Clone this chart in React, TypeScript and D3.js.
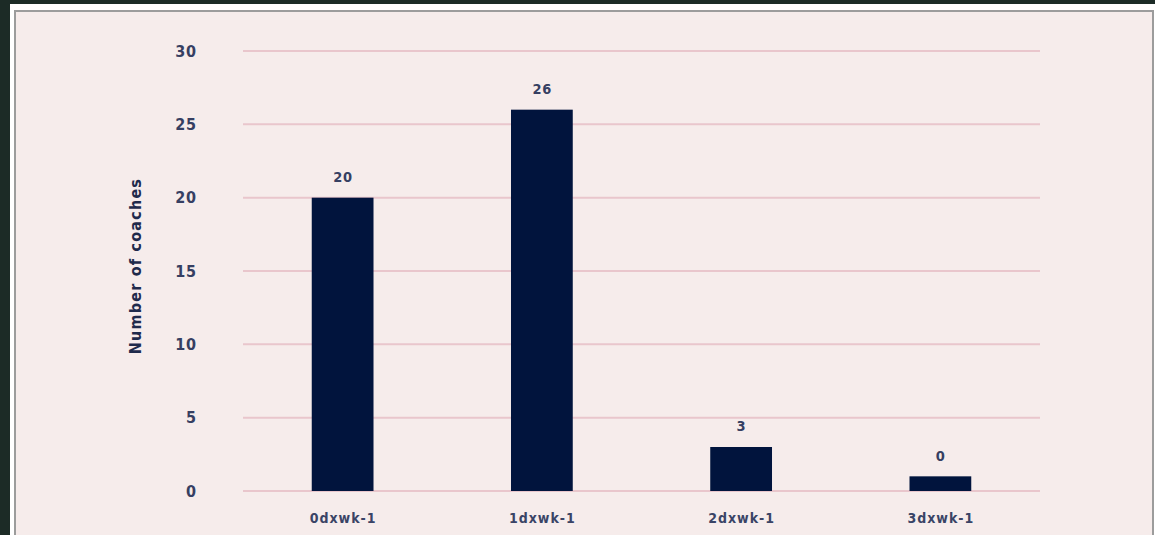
import React from "react";
import * as d3 from "d3";

const categories = ["0dxwk-1", "1dxwk-1", "2dxwk-1", "3dxwk-1"];
const values = [20, 26, 3, 1];
const valueLabels = ["20", "26", "3", "0"];
const yTicks = [0, 5, 10, 15, 20, 25, 30];

const W = 1155;
const H = 535;
const font = "'DejaVu Sans Condensed', 'DejaVu Sans', sans-serif";

export default function App() {
  const x = d3
    .scaleBand<string>()
    .domain(categories)
    .range([243, 1040])
    .paddingInner(0.69)
    .paddingOuter(0.345);
  const y = d3.scaleLinear().domain([0, 30]).range([491, 51]);

  return (
    <svg
      width={W}
      height={H}
      style={{ position: "absolute", left: 0, top: 0, display: "block" }}
    >
      <rect x={0} y={0} width={W} height={H} fill="#1c2b26" />
      <rect x={10} y={4} width={W - 10} height={H} fill="#ffffff" />
      <rect x={15} y={11} width={1138} height={H} fill="#f6eceb" stroke="#9c9c9c" strokeWidth={2} />
      {yTicks.map((t) => (
        <g key={t}>
          <line x1={243} x2={1040} y1={y(t)} y2={y(t)} stroke="#e9c6cc" strokeWidth={2} />
          <text
            x={196.8}
            y={y(t)}
            dy="0.36em"
            textAnchor="end"
            fontFamily={font}
            fontWeight="bold"
            fontSize={16}
            letterSpacing={0.8}
            fill="#363f62"
          >
            {t}
          </text>
        </g>
      ))}
      <text
        transform={`translate(135,266) rotate(-90)`}
        dy="0.36em"
        textAnchor="middle"
        fontFamily={font}
        fontWeight="bold"
        fontSize={16}
        letterSpacing={1.2}
        fill="#1f2a4b"
      >
        Number of coaches
      </text>
      {categories.map((c, i) => (
        <g key={c}>
          <rect
            x={x(c)!}
            y={y(values[i])}
            width={x.bandwidth()}
            height={y(0) - y(values[i])}
            fill="#01143d"
          />
          <text
            x={x(c)! + x.bandwidth() / 2 + 0.3}
            y={y(values[i]) - 21}
            dy="0.36em"
            textAnchor="middle"
            fontFamily={font}
            fontWeight="bold"
            fontSize={14.5}
            letterSpacing={0.6}
            fill="#363f62"
          >
            {valueLabels[i]}
          </text>
          <text
            x={x(c)! + x.bandwidth() / 2 + 0.5}
            y={518}
            dy="0.36em"
            textAnchor="middle"
            fontFamily={font}
            fontWeight="bold"
            fontSize={14}
            letterSpacing={1}
            fill="#3a4466"
          >
            {c}
          </text>
        </g>
      ))}
    </svg>
  );
}
